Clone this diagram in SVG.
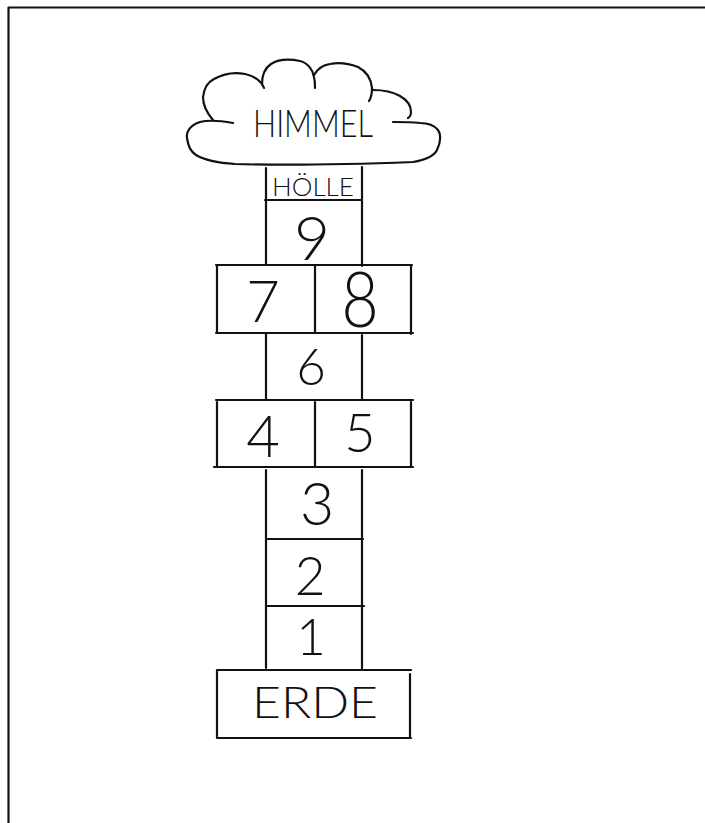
<svg xmlns="http://www.w3.org/2000/svg" width="705" height="823" viewBox="0 0 705 823">
<style>
.ln{fill:none;stroke:#111;stroke-width:2.2;stroke-linecap:round;stroke-linejoin:round}
.t{font-family:Lato,"Open Sans","Liberation Sans",sans-serif;font-weight:300;fill:#111;text-anchor:middle}
</style>
<rect x="0" y="0" width="705" height="823" fill="#fff"/>
<path class="ln" d="M8.5,823 V7.5 H705"/>
<g id="himmel">
<path class="ln" d="M233,123 C222,121 208,120 200,122 C190,125 186,132 187,138 C188,146 191,152 196,155 C206,161 220,163 235,164 C300,166 360,164 413,162 C425,160 434,156 437,150 C441,142 441,134 438,130 C434,125 428,123 420,123 C410,122 400,122 393,122"/>
<path class="ln" d="M213,120 C207,113 203,105 203,97 C204,88 208,82 214,79 C223,74 235,72 245,74 C255,76 262,82 264,88"/>
<path class="ln" d="M262,84 C262,76 265,68 271,64 C279,59 290,59 300,61 C308,63 313,70 314,77 C315,81 315,85 315,88"/>
<path class="ln" d="M314,75 C318,68 323,65 330,64 C340,62 350,64 358,67 C366,71 371,79 372,88 C372,94 371,98 369,101"/>
<path class="ln" d="M373,90 C383,90 393,92 400,96 C407,100 411,106 411,112 C411,115 410,117 408,118"/>
<text class="t" x="313" y="137" font-size="37" textLength="120" lengthAdjust="spacingAndGlyphs">HIMMEL</text>
</g>
<g id="hoelle">
<path class="ln" d="M266,168 V200 M362,167 V200 M265,200 H362"/>
<text class="t" x="313" y="196" font-size="25" textLength="82" lengthAdjust="spacingAndGlyphs">HÖLLE</text>
</g>
<g id="feld9">
<path class="ln" d="M266,200 V265 M362,200 V266"/>
<text class="t" x="312" y="260" font-size="62">9</text>
</g>
<g id="feld7">
<path class="ln" d="M216,265 H412 M217,265 V333 M216,333 H413 M315,265 V333"/>
<text class="t" x="263" y="322" font-size="58">7</text>
</g>
<g id="feld8">
<path class="ln" d="M411,265 V334"/>
<text class="t" transform="translate(360,327) scale(1,1.2)" font-size="64">8</text>
</g>
<g id="feld6">
<path class="ln" d="M266,334 V400 M362,335 V400"/>
<text class="t" x="311" y="385" font-size="51">6</text>
</g>
<g id="feld4">
<path class="ln" d="M216,400 H413 M217,402 V466 M214,467 H413 M315,402 V467"/>
<text class="t" x="263" y="457" font-size="58">4</text>
</g>
<g id="feld5">
<path class="ln" d="M411,402 V466"/>
<text class="t" x="360" y="452" font-size="54">5</text>
</g>
<g id="feld3">
<path class="ln" d="M266,470 V539 M362,470 V539"/>
<text class="t" x="317" y="525" font-size="59">3</text>
</g>
<g id="feld2">
<path class="ln" d="M266,539 H363 M266,539 V606 M362,539 V606"/>
<text class="t" x="310" y="595" font-size="53">2</text>
</g>
<g id="feld1">
<path class="ln" d="M266,606 H364 M266,606 V668 M362,606 V669"/>
<text class="t" x="311" y="655" font-size="51">1</text>
</g>
<g id="erde">
<path class="ln" d="M217,670 H411 M217,670 V738 H411 M410,674 V738"/>
<text class="t" x="315" y="718" font-size="43" textLength="126" lengthAdjust="spacingAndGlyphs">ERDE</text>
</g>
<g id="connectors"></g>
</svg>
